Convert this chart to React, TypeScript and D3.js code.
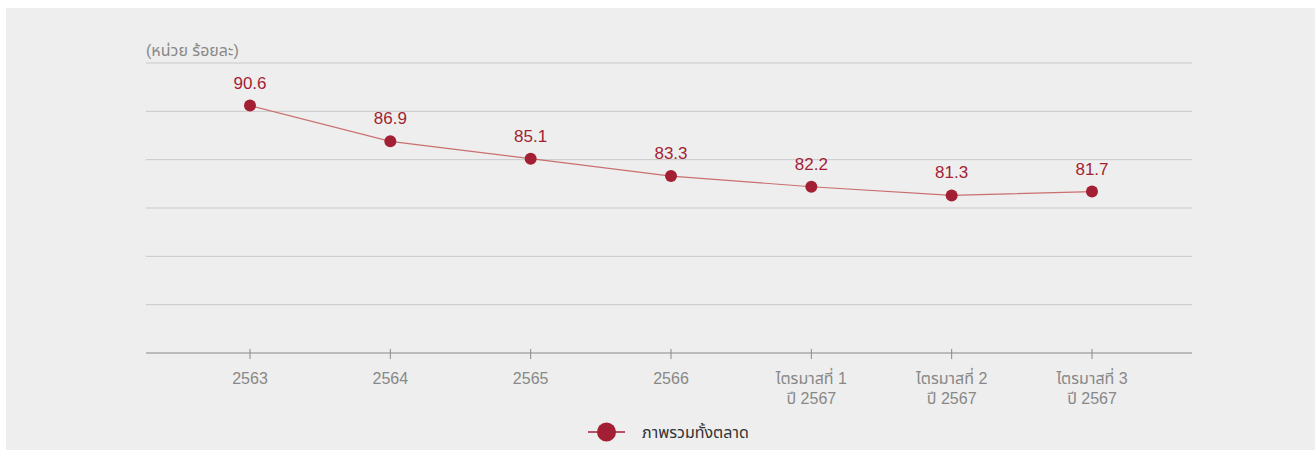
import React from "react";
import * as d3 from "d3";

const categories = ["2563", "2564", "2565", "2566", "ไตรมาสที่ 1\nปี 2567", "ไตรมาสที่ 2\nปี 2567", "ไตรมาสที่ 3\nปี 2567"];
const values = [90.6, 86.9, 85.1, 83.3, 82.2, 81.3, 81.7];
const yTicks = [65, 70, 75, 80, 85, 90, 95];
const seriesName = "ภาพรวมทั้งตลาด";
const unitLabel = "(หน่วย ร้อยละ)";

const W = 1309;
const H = 442;
const OX = 6, OY = 8; // svg offset on page

export default function App() {
  const x = d3.scalePoint<string>().domain(categories).range([250 - OX, 1092 - OX]);
  const y = d3.scaleLinear().domain([65, 95]).range([353 - OY, 63 - OY]);
  const line = d3.line<number>().x((_, i) => x(categories[i])!).y((d) => y(d));
  const axisLeft = 146 - OX, axisRight = 1192 - OX;
  const font = "Arial, 'Liberation Sans', 'Noto Sans Thai', 'Noto Sans Thai UI', 'Noto Sans', sans-serif";
  const red = "#a31f34";
  return (
    <svg width={W} height={H} style={{ position: "absolute", left: OX, top: OY, background: "#eeeeee", fontFamily: font }}>
      <text x={axisLeft} y={56 - OY} fontSize={16} fill="#888">{unitLabel}</text>
      {yTicks.slice(1).map((t) => (
        <line key={t} x1={axisLeft} x2={axisRight} y1={y(t)} y2={y(t)} stroke="#c8c8c8" strokeWidth={1} />
      ))}
      <line x1={axisLeft} x2={axisRight} y1={y(65)} y2={y(65)} stroke="#888" strokeWidth={1} />
      {categories.map((c) => {
        const lines = c.split("\n");
        return (
          <g key={c} transform={`translate(${x(c)},0)`}>
            <line y1={y(65) - 4} y2={y(65) + 6} stroke="#888" />
            {lines.map((l, i) => (
              <text key={i} y={384 - OY + i * 20} textAnchor="middle" fontSize={16} fill="#888">{l}</text>
            ))}
          </g>
        );
      })}
      <path d={line(values) || ""} fill="none" stroke="#c9706f" strokeWidth={1.2} />
      {values.map((v, i) => (
        <g key={i}>
          <circle cx={x(categories[i])} cy={y(v)} r={6} fill={red} />
          <text x={x(categories[i])} y={y(v) - 17} textAnchor="middle" fontSize={17} fill={red}>{v.toFixed(1)}</text>
        </g>
      ))}
      <g transform={`translate(${588 - OX},${432 - OY})`}>
        <line x1={0} x2={37} y1={0} y2={0} stroke={red} strokeWidth={1.5} />
        <circle cx={18.5} cy={0} r={9.5} fill={red} />
        <text x={54} y={6} fontSize={16} fill="#333">{seriesName}</text>
      </g>
    </svg>
  );
}
